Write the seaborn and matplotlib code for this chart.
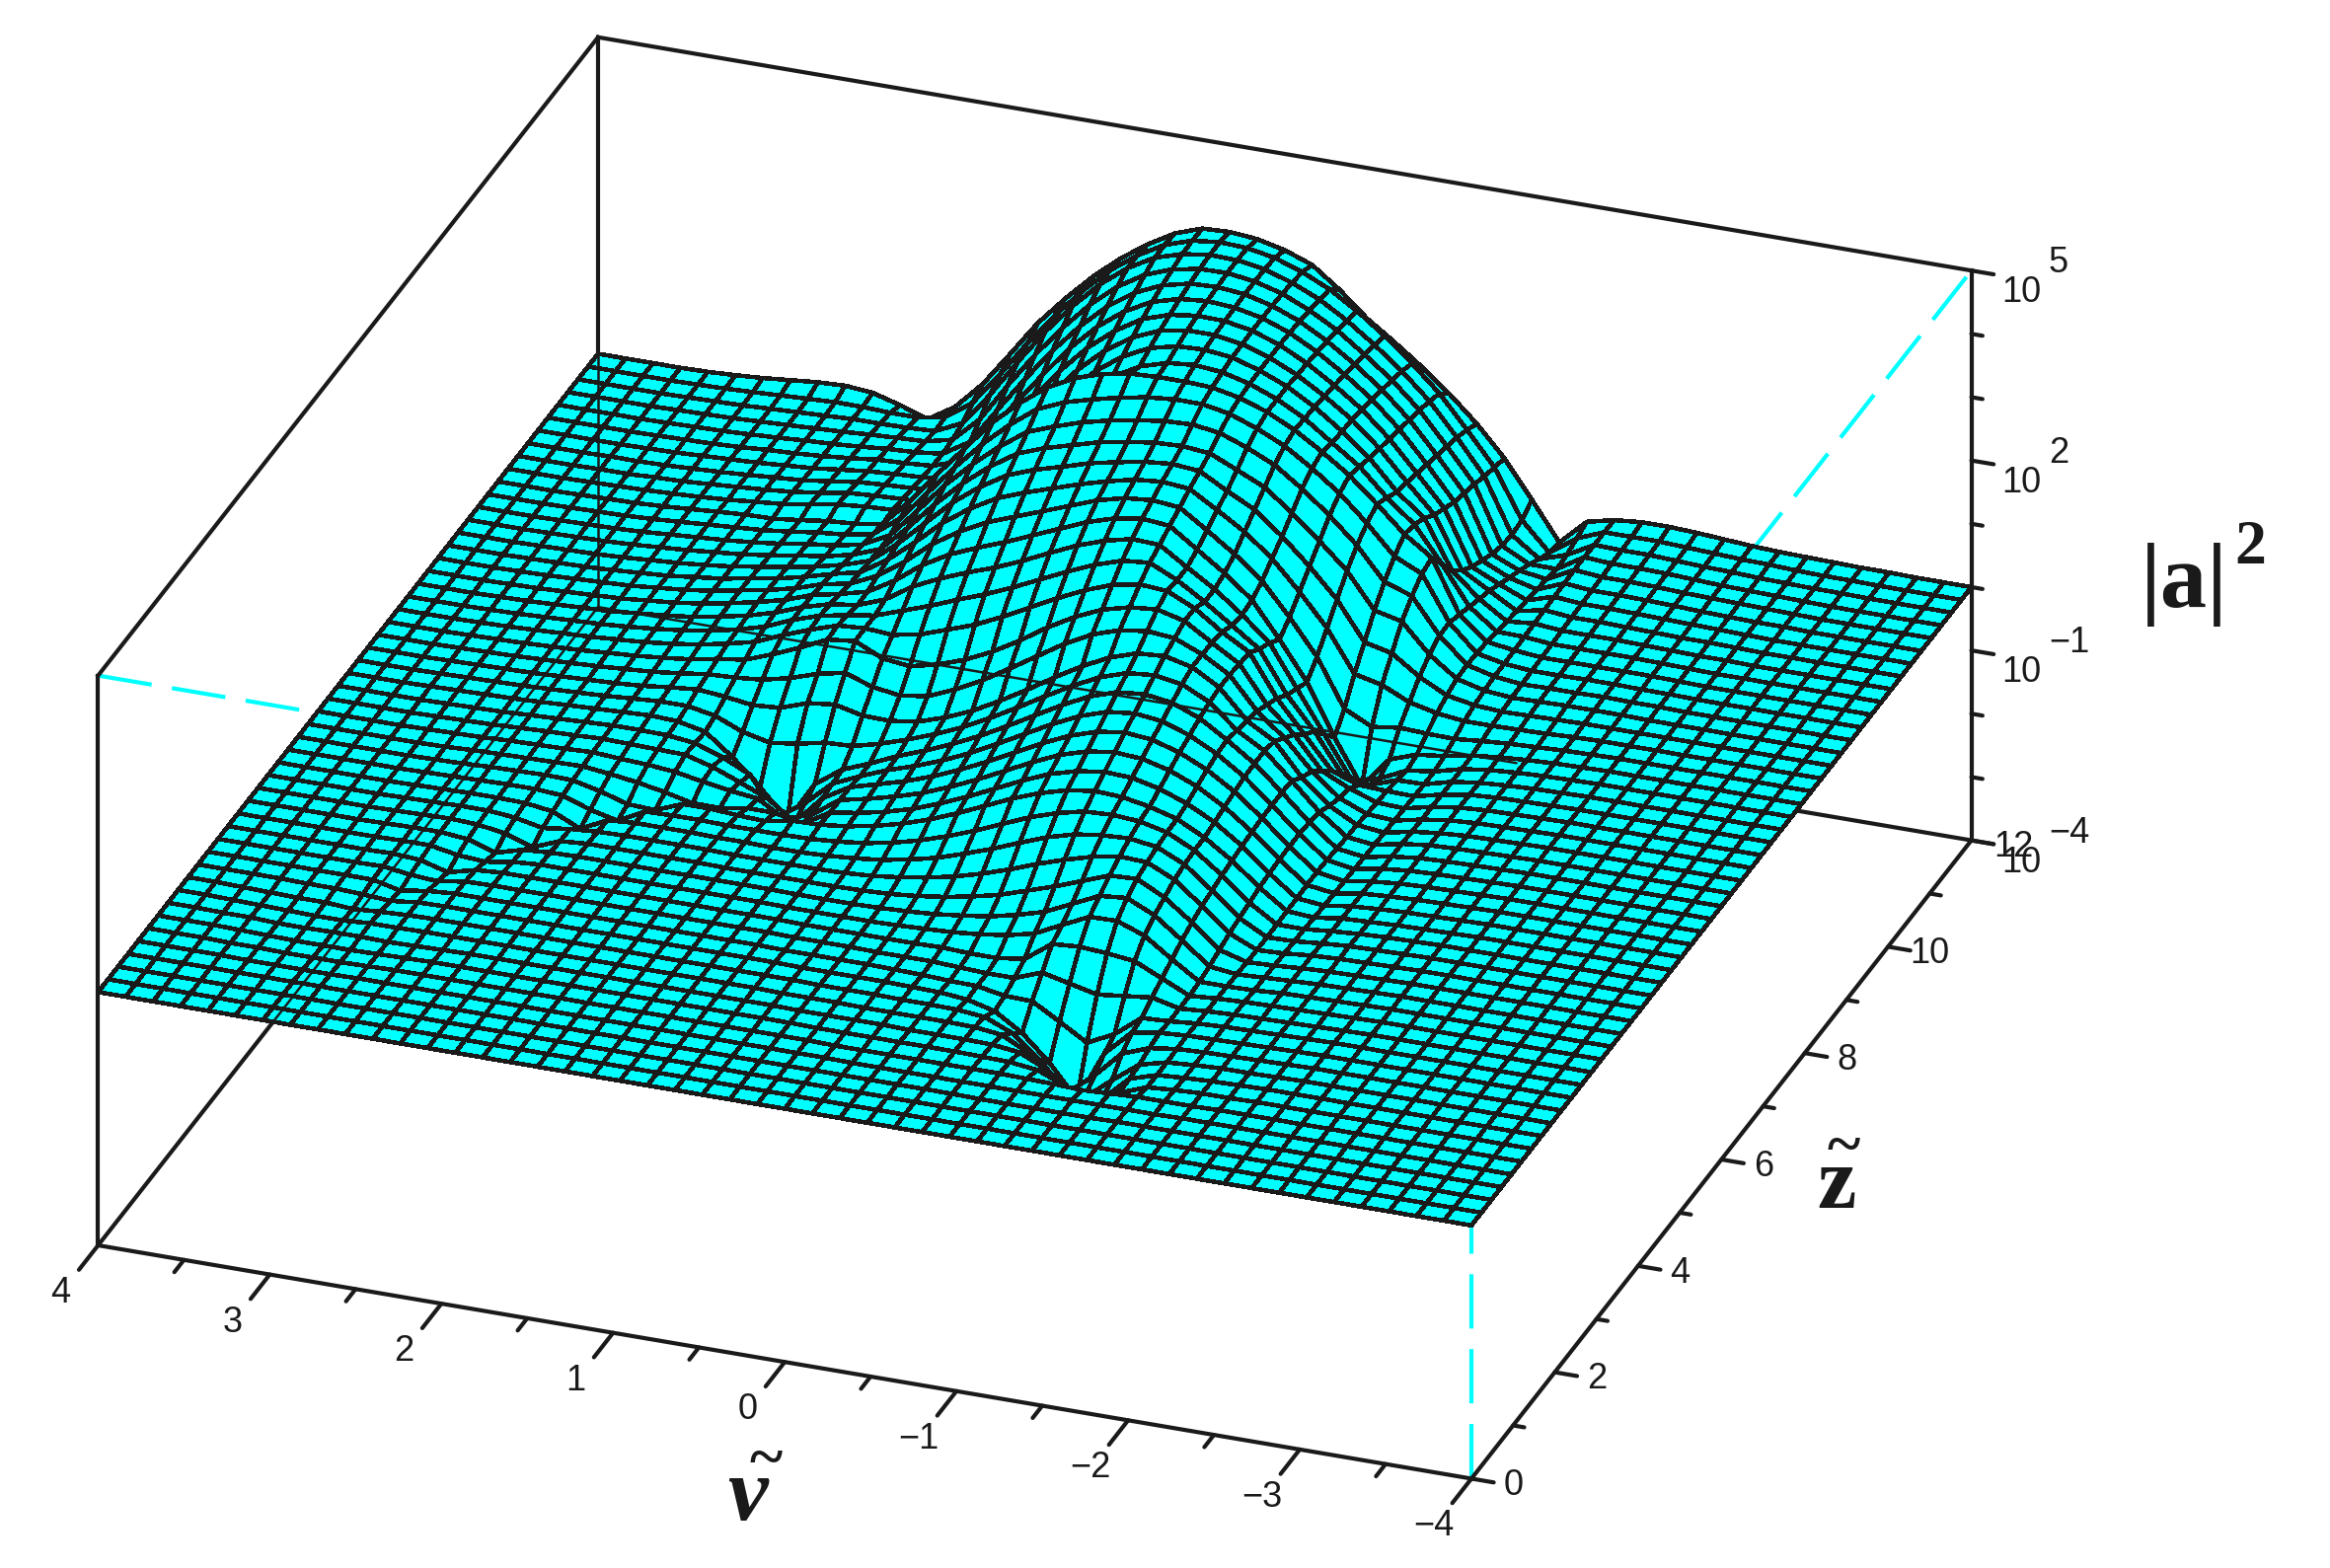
#!/usr/bin/env python3
# Surface of |a|^2 over (nu, z), log scale, view from the front
import numpy as np
import matplotlib
matplotlib.use("Agg")
import matplotlib.pyplot as plt
import seaborn as sns
from mpl_toolkits.mplot3d import proj3d

#%% Data
nu = np.linspace(4, -4, 51)
zt = np.linspace(0, 12, 51)

nu_major = [4, 3, 2, 1, 0, -1, -2, -3, -4]
nu_minor = [3.5, 2.5, 1.5, 0.5, -0.5, -1.5, -2.5, -3.5]
nu_labels = ["4", "3", "2", "1", "0", "\u22121", "\u22122", "\u22123", "\u22124"]
z_major = [0, 2, 4, 6, 8, 10, 12]
z_minor = [1, 3, 5, 7, 9, 11]
z_labels = ["0", "2", "4", "6", "8", "10", "12"]
h_major = [5, 2, -1, -4]
h_minor = [4, 3, 1, 0, -2, -3]
h_exps = ["5", "2", "\u22121", "\u22124"]

# log10|a|^2 in hundredths, one row per z line (front to back), nu from 4 to -4
log_a2 = [
[0,0,0,0,0,0,0,0,0,0, 0,0,0,0,0,0,0,0,0,0, 0,0,0,0,0,0,0,0,0,0, 0,0,0,0,0,0,0,0,0, 0,0,0,0,0,0,0,0,0,0,0,0],
[0,0,0,0,0,0,0,0,0,0, 0,0,0,0,0,0,0,0,0,0, 0,0,0,0,0,0,0,0,0,0, 0,0,0,0,0,0,0,0,0, 0,0,0,0,0,0,0,0,0,0,0,0],
[0,0,0,0,0,0,0,0,0,0, 0,0,0,0,0,0,0,0,0,0, 0,0,0,0,0,0,0,0,0,0, 0,0,0,0,0,0,0,0,0, 0,0,0,0,0,0,0,0,0,0,0,0],
[0,0,0,0,0,0,0,0,0,0, 0,0,0,0,0,0,0,0,0,0, 0,0,0,0,0,0,0,0,0,0, 0,-1,-1,-1,-1,-1,0,0,0, 0,0,0,0,0,0,0,0,0,0,0,0],
[0,0,0,0,-1,-1,-1,-1,0,0, 0,0,0,0,0,0,0,0,0,0, 0,0,0,0,0,0,-1,-1,-1,-1, -1,-1,-1,-1,-1,-1,-1,-1,0, 0,0,0,0,0,0,0,0,0,0,0,0],
[0,0,0,-1,-1,-2,-2,-2,-1,0, 0,0,0,0,0,0,0,0,0,0, 0,0,0,0,0,-1,-1,-1,-1,-1, -1,-1,-2,-3,-5,-3,-1,-1,-1, 0,0,0,0,0,0,0,0,0,0,0,0],
[0,0,0,-1,-2,-3,-3,-3,-2,-1, 0,0,0,0,0,0,0,0,0,0, 0,0,0,0,-1,-1,-1,-1,-1,-1, -2,-3,-8,-25,-45,-22,-6,-3,-1, -1,0,0,0,0,0,0,0,0,0,0,0],
[0,0,-1,-1,-3,-3,-2,-2,-3,-2, -1,0,0,0,0,0,0,0,0,0, 0,0,0,-1,-1,-1,-1,-2,-2,-2, -3,-8,-28,-65,-60,-20,-7,-4,-2, -1,0,0,0,0,0,0,0,0,0,0,0],
[0,0,-1,-2,-3,-4,-4,-1,-1,0, 0,0,0,0,0,0,0,0,0,0, 0,0,-1,-1,-1,-2,-2,-2,-2,-3, -8,-30,-70,-85,-50,-18,-7,-4,-2, -2,-1,0,0,0,0,0,0,0,0,0,0],
[0,0,-1,-2,-3,-3,-6,-3,-1,0, 0,0,0,0,0,0,0,0,0,0, 0,0,0,-1,-1,-1,-2,-2,-3,-7, -25,-60,-105,-70,-28,-12,-6,-4,-3, -2,-1,0,0,0,0,0,0,0,0,0,0],
[0,0,0,0,-1,-1,-3,-6,-1,0, 0,0,0,0,0,0,0,0,0,0, 0,0,-1,-1,-1,-1,-2,-3,-7,-18, -45,-85,-135,-55,-15,-8,-5,-4,-3, -2,-1,0,0,0,0,0,0,0,0,0,0],
[0,0,0,0,0,0,0,-10,-3,0, 0,0,0,0,0,0,0,0,0,0, 0,-1,-1,-1,-1,-2,-3,-5,-6,-14, -15,-40,-66,-45,-12,-10,-6,-4,-3, -2,-1,0,0,0,0,0,0,0,0,0,0],
[0,0,0,0,0,0,1,-5,-8,-1, 0,0,0,0,0,0,0,0,0,0, 0,-1,-1,-1,-2,-2,-2,-4,-6,-6, 10,0,-10,-5,0,-10,-7,-5,-4, -3,-2,-1,0,0,0,0,0,0,0,0,0],
[0,0,0,0,0,0,1,-2,-14,-3, 0,0,0,0,0,0,0,0,0,0, 0,-1,-1,-1,-1,-1,0,-2,-2,4, 35,38,35,30,10,-10,-7,-5,-4, -3,-2,-1,0,0,0,0,0,0,0,0,0],
[0,0,0,0,0,0,1,1,-7,-10, -3,0,0,0,0,0,0,0,0,0, -1,-1,-1,-1,0,2,4,8,14,24, 45,65,66,50,20,-8,-8,-7,-4, -3,-2,-1,0,0,0,0,0,0,0,0,0],
[0,0,0,0,0,1,2,2,-2,-16, -4,-1,0,0,0,0,0,0,0,0, -1,-1,-1,0,2,5,10,16,26,38, 58,78,82,62,30,-4,-9,-7,-5, -3,-2,-1,0,0,0,0,0,0,0,0,0],
[0,0,0,0,0,1,2,3,1,-6, -20,-3,0,0,0,0,0,-1,-1,-1, -1,-1,0,2,6,12,20,30,44,58, 74,90,92,70,38,2,-10,-8,-5, -3,-2,-1,0,0,0,0,0,0,0,0,0],
[0,0,0,0,0,1,2,3,3,-1, -10,-4,-1,0,0,0,0,-1,-1,-1, -1,0,3,8,15,24,36,50,66,80, 92,100,98,78,44,8,-11,-9,-5, -3,-2,-1,0,0,0,0,0,0,0,0,0],
[0,0,0,0,0,1,2,3,3,2, -4,-24,-3,0,0,0,-1,-1,-2,-2, 0,3,8,16,26,40,55,72,88,100, 106,108,102,82,48,12,-11,-10,-6, -3,-2,-1,0,0,0,0,0,0,0,0,0],
[0,0,0,0,0,1,2,3,4,4, 1,-14,-24,-2,-1,-1,-2,-2,-2,-1, 2,7,15,26,40,56,74,92,106,116, 118,115,105,84,52,16,-11,-11,-7, -4,-2,-1,0,0,0,0,0,0,0,0,0],
[0,0,0,0,0,1,2,4,5,6, 5,-5,-18,-20,-3,-3,-6,-8,0,1, 6,14,25,39,56,75,94,110,122,128, 126,118,106,84,55,20,-10,-13,-7, -5,-3,-2,-1,0,0,0,0,0,0,0,0],
[0,0,0,0,0,1,3,4,5,6, 7,2,-4,-12,-22,-22,-15,-15,-25,0, 7,16,28,44,62,82,102,120,132,138, 136,126,110,88,58,22,-10,-14,-8, -5,-3,-2,-1,0,0,0,0,0,0,0,0],
[0,0,0,0,1,2,3,5,6,7, 9,6,4,0,-8,-15,-20,-45,-30,0, 9,20,33,50,69,90,111,130,143,149, 146,135,117,92,60,24,-9,-15,-8, -5,-3,-2,-1,0,0,0,0,0,0,0,0],
[0,0,0,0,1,2,3,5,7,8, 10,9,8,7,-5,-22,-40,-70,-25,0, 12,24,39,57,77,99,121,140,154,160, 156,143,123,96,62,24,-9,-16,-9, -5,-3,-2,-1,0,0,0,0,0,0,0,0],
[0,0,0,0,1,2,3,5,7,9, 11,11,10,5,-10,-30,-90,-60,-22,-3, 14,28,44,63,85,108,131,151,165,170, 165,150,128,99,62,24,-10,-17,-9, -5,-3,-2,-1,0,0,0,0,0,0,0,0],
[0,0,0,1,2,3,4,6,8,10, 12,14,12,3,-30,-70,-115,-50,-20,-3, 16,32,50,70,93,117,141,162,176,180, 174,157,130,100,62,22,-12,-18,-10, -5,-3,-2,-1,0,0,0,0,0,0,0,0],
[0,0,0,1,2,3,4,6,8,10, 13,16,16,8,-10,-20,-14,-5,-3,8, 22,38,56,78,102,127,151,172,186,190, 183,162,125,100,60,18,-14,-19,-10, -5,-3,-2,-1,0,0,0,0,0,0,0,0],
[0,0,0,1,2,3,4,6,8,10, 13,18,22,18,12,15,30,35,25,24, 30,44,62,85,110,137,162,183,197,200, 190,165,120,95,45,8,-15,-20,-11, -6,-3,-2,-1,0,0,0,0,0,0,0,0],
[0,0,0,1,2,3,5,7,9,12, 15,20,26,28,32,42,56,65,50,44, 50,68,90,116,143,170,192,206,212,208, 190,165,115,80,35,0,-18,-21,-12, -6,-3,-2,-1,0,0,0,0,0,0,0,0],
[0,0,0,1,2,3,5,7,10,13, 17,22,30,36,52,70,90,95,75,70, 80,95,115,140,168,192,211,222,226,215, 188,162,105,65,15,-5,-20,-22,-12, -6,-3,-2,-1,0,0,0,0,0,0,0,0],
[0,0,0,1,2,4,6,8,11,14, 19,25,34,44,62,78,92,95,92,100, 115,130,150,172,194,214,230,238,235,215, 185,160,95,45,-5,-20,-22,-23,-13, -6,-3,-2,-1,0,0,0,0,0,0,0,0],
[0,0,0,1,2,4,6,8,11,15, 20,27,36,48,66,80,88,95,110,125, 142,158,176,196,216,234,248,252,232,205, 175,145,80,30,-30,-40,-25,-24,-13, -7,-4,-2,-1,0,0,0,0,0,0,0,0],
[0,0,0,1,2,4,6,8,12,16, 21,29,38,50,66,78,84,100,128,148, 165,180,198,218,237,252,262,260,232,205, 172,135,70,5,-60,-50,-30,-24,-13, -7,-4,-2,-1,0,0,0,0,0,0,0,0],
[0,0,0,1,2,4,6,8,12,16, 22,30,39,50,65,74,85,110,142,166, 184,200,218,236,254,267,274,270,240,210, 175,120,60,-20,-90,-40,-25,-20,-12, -7,-4,-2,-1,0,0,0,0,0,0,0,0],
[0,0,0,1,2,4,6,8,12,16, 22,30,38,48,62,70,90,120,155,182, 204,220,236,252,268,279,283,279,250,220, 185,135,80,5,-16,-10,-12,-13,-9, -6,-4,-2,-1,0,0,0,0,0,0,0,0],
[0,0,0,1,2,3,5,8,11,16, 21,29,36,46,58,68,95,130,168,198, 222,238,252,266,278,288,292,288,262,235, 200,155,105,40,30,10,0,-5,-5, -4,-3,-1,0,0,0,0,0,0,0,0,0],
[0,0,0,1,2,3,5,8,11,15, 20,27,34,42,52,66,100,140,180,212, 238,254,266,279,288,296,300,296,272,250, 215,175,130,70,60,30,8,0,-3, -2,-1,0,0,0,0,0,0,0,0,0,0],
[0,0,0,1,2,3,5,8,11,15, 19,25,32,38,48,64,105,150,190,224, 252,268,280,292,300,306,308,304,285,265, 232,195,155,100,90,45,14,3,-1, 0,1,1,1,0,0,0,0,0,0,0,0],
[0,0,0,1,2,3,5,8,11,14, 18,23,30,35,44,66,112,160,200,236, 266,282,296,306,314,320,322,316,300,280, 250,215,175,125,110,55,16,5,0, 1,1,2,1,1,0,0,0,0,0,0,0],
[0,0,0,1,2,3,5,8,11,14, 17,22,28,32,40,72,120,168,212,250, 282,300,312,322,330,334,334,326,310,290, 262,230,190,145,125,55,14,5,1, 1,2,2,1,1,0,0,0,0,0,0,0],
[0,0,0,1,2,3,5,8,11,14, 15,20,26,29,36,80,130,178,226,264, 296,318,332,340,342,342,340,331,316,295, 268,238,200,160,130,48,12,6,2, 2,2,2,2,1,0,0,0,0,0,0,0],
[0,0,0,1,2,3,5,7,10,14,18,25, 32,36,38,38,41,72,128,180,230,274,307,331,344,348,344,333,316,293,262,232,190,155,100,40,8,7,3, 3,3,3,2,1,0,0,0,0,0,0,0],
[0,0,0,1,1,3,4,7,10,13,17,23, 30,33,35,35,48,90,146,198,247,288,319,340,350,352,347,334,316,291,260,225,179,145,70,32,4,8,4, 4,4,3,2,1,1,0,0,0,0,0,0],
[0,0,0,1,1,2,4,6,9,12,15,21, 27,30,32,34,60,108,164,216,263,301,329,347,355,355,348,334,314,288,258,220,174,130,50,25,0,9,5, 5,4,3,2,2,1,0,0,0,0,0,0],
[0,0,0,0,1,2,4,6,8,11,14,19, 24,27,29,36,75,128,182,234,278,312,338,352,358,357,349,334,312,285,254,215,168,120,35,15,-3,10,6, 6,5,4,3,2,1,0,0,0,0,0,0],
[0,0,0,0,1,2,3,5,8,10,13,17, 22,24,27,42,92,148,200,250,291,323,345,357,361,358,349,333,310,282,250,210,162,110,25,5,-6,11,7, 7,6,5,3,2,1,1,0,0,0,0,0],
[0,0,0,0,1,2,3,5,7,10,12,15, 19,21,26,52,110,166,218,264,303,332,351,361,363,359,348,331,307,278,245,205,156,104,15,-4,-10,12,8, 8,7,5,4,3,2,1,0,0,0,0,0],
[0,0,0,0,1,2,3,5,7,9,11,14, 16,18,28,68,128,184,234,278,314,340,356,364,365,359,347,328,304,273,240,200,150,98,8,-14,-14,12,9, 9,8,6,4,3,2,1,0,0,0,0,0],
[0,0,0,0,1,2,3,5,7,9,11,11, 12,14,34,86,145,200,248,290,323,347,360,366,365,358,344,325,299,268,234,194,144,90,5,-26,-12,11,10, 10,8,6,5,3,2,1,1,0,0,0,0],
[0,0,0,0,1,2,4,6,8,10,10,8, 8,16,46,98,155,206,252,292,323,347,361,366,364,356,341,321,294,262,226,186,136,84,8,-36,-6,11,11, 11,9,7,5,4,2,1,1,0,0,0,0],
[0,0,0,0,1,3,6,10,14,16,12,0, -15,12,55,110,166,212,254,290,320,345,360,362,358,348,332,300,262,232,200,165,125,78,20,-40,0,10,14, 14,12,9,6,4,3,2,1,1,0,0,0],
]

#%% Figure
sns.set_theme(style="white")
plt.rcParams["font.family"] = ["Liberation Sans", "DejaVu Sans"]
plt.rcParams["lines.scale_dashes"] = False

W, H = 2361, 1589
fig = plt.figure(figsize=(W / 100, H / 100), dpi=100, facecolor="white")
ax = fig.add_axes([0.1, 0.1, 0.8, 0.8], projection="3d", proj_type="ortho")
ax.computed_zorder = False
ax.set_axis_off()
ax.set_box_aspect((983, 981, 433))
ax.view_init(elev=27.76, azim=-69.96)
ax.set_xlim(4, -4)
ax.set_ylim(0, 12)
ax.set_zlim(-4, 5)

NU, ZT = np.meshgrid(nu, zt)
Zh = np.array(log_a2) / 100.0

cyan = "#00ffff"
lw_box = 3.0
dash = (0, (39.6, 15))

# hidden box edges, cyan and dashed, go under the surface
for xs, ys, zs in [([4, -4], [0, 0], [5, 5]),
                   ([-4, -4], [0, 12], [5, 5]),
                   ([-4, -4], [0, 0], [-4, 5])]:
    ax.plot(xs, ys, zs, color=cyan, lw=lw_box, ls=dash, zorder=1)

# floor lines under the surface
ax.plot([4, 4], [0, 12], [-4, -4], color="k", lw=lw_box, zorder=1.5)
ax.plot([4, -4], [12, 12], [-4, -4], color="k", lw=lw_box, zorder=1.5)
ax.plot([4, 4], [12, 12], [-4, 5], color="k", lw=lw_box, zorder=1.5)

ax.plot_surface(NU, ZT, Zh, rstride=1, cstride=1, color=cyan, edgecolor="k",
                linewidth=2.5, shade=False, antialiased=False, zorder=2)

# these come through the mesh in the original
ax.plot([4, 4], [0, 12], [-4, -4], color="k", lw=1.8, zorder=3)
ax.plot([4, -1.35], [12, 12], [-4, -4], color="k", lw=1.8, zorder=3)
ax.plot([4, 4], [12, 12], [-4, 0], color="k", lw=1.8, zorder=3)

# solid box
for xs, ys, zs in [([4, -4], [0, 0], [-4, -4]),
                   ([-4, -4], [0, 12], [-4, -4]),
                   ([-4, -4], [12, 12], [-4, 5]),
                   ([4, -4], [12, 12], [5, 5]),
                   ([4, 4], [0, 12], [5, 5]),
                   ([4, 4], [0, 0], [-4, 5])]:
    ax.plot(xs, ys, zs, color="k", lw=lw_box, zorder=4, solid_capstyle="projecting")

#%% Ticks
for v in nu_major:
    ax.plot([v, v], [0, -0.46], [-4, -4], color="k", lw=lw_box, zorder=4)
for v in nu_minor:
    ax.plot([v, v], [0, -0.23], [-4, -4], color="k", lw=lw_box, zorder=4)
for v in z_major:
    ax.plot([-4, -4.13], [v, v], [-4, -4], color="k", lw=lw_box, zorder=4)
for v in z_minor:
    ax.plot([-4, -4.065], [v, v], [-4, -4], color="k", lw=lw_box, zorder=4)
for v in h_major:
    ax.plot([-4, -4.13], [12, 12], [v, v], color="k", lw=lw_box, zorder=4)
for v in h_minor:
    ax.plot([-4, -4.065], [12, 12], [v, v], color="k", lw=lw_box, zorder=4)

tick_fs = 26
for v, s in zip(nu_major, nu_labels):
    ax.text(v, -0.9, -4, s, fontsize=tick_fs, ha="center", va="center", color="k", zorder=5)
for v, s in zip(z_major, z_labels):
    ax.text(-4.245, v, -4, s, fontsize=tick_fs, ha="center", va="center", color="k", zorder=5)
for v, s in zip(h_major, h_exps):
    ax.text(-4.29, 12, v - 0.22, "10", fontsize=tick_fs, ha="center", va="center", color="k", zorder=5)
    ax.text(-4.45, 12, v + 0.32, s, fontsize=tick_fs, ha="left", va="center", color="k", zorder=5)


#%% Place the box on the pixels of the original
def to_px(x, y, z):
    xs, ys, _ = proj3d.proj_transform(x, y, z, ax.get_proj())
    return ax.transData.transform((xs, ys))


targets = [((4, 0, -4), (99.4, H - 1262.0)), ((-4, 0, -4), (1491.0, H - 1498.5))]
for _ in range(3):
    fig.canvas.draw()
    a, b = to_px(*targets[0][0]), to_px(*targets[1][0])
    s = np.hypot(*(np.array(targets[1][1]) - targets[0][1])) / np.hypot(*(b - a))
    p = ax.get_position()
    cx, cy = p.x0 + p.width / 2, p.y0 + p.height / 2
    w, h = p.width * s, p.height * s
    ax.set_position([cx - w / 2, cy - h / 2, w, h])
    fig.canvas.draw()
    a = to_px(*targets[0][0])
    dx, dy = (np.array(targets[0][1]) - a) / np.array([W, H])
    p = ax.get_position()
    ax.set_position([p.x0 + dx, p.y0 + dy, p.width, p.height])

#%% Axis titles
serif = "Liberation Serif"


def label(px, py, s, size, **kw):
    fig.text(px / W, 1 - py / H, s, fontsize=size, family=serif, fontweight="bold",
             color="k", ha="center", va="center", **kw)


label(2213, 592, "|a|", 68)
label(2280, 556, "2", 46)
label(1861, 1203, "z", 64)
label(1868, 1165, "~", 46)
label(757, 1518, "\u03bd", 66, style="italic")
label(776, 1482, "~", 46)

fig.savefig("out.png", dpi=100, facecolor="white")
